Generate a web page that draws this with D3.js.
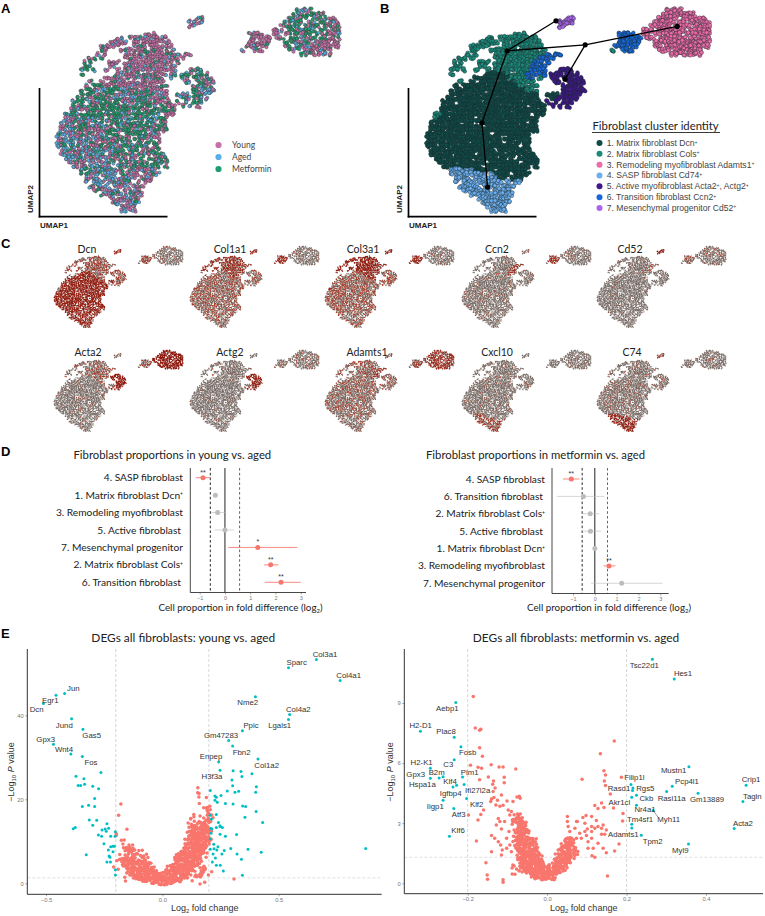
<!DOCTYPE html>
<html><head><meta charset="utf-8">
<script src="https://cdnjs.cloudflare.com/ajax/libs/d3/7.8.5/d3.min.js"></script>
<style>html,body{margin:0;padding:0;background:#fff}svg{display:block}</style></head>
<body><svg id="c" width="765" height="916"></svg>
<script>
// ---------- UMAP occupancy: digit = cluster id of the cell at that place
const umapRows = [
".......... .......... .......... .......... .......... .......... 3333.......",
".......... .......... .......... .......... .......... .........3 3333333....",
".......... .......... .......... .....77... .......... ........33 333.333333.",
".......... .......... .......... ...7777... .......... .......333 33.33.33333",
".......... .......... .......... ...77..... .......... ......3333 3.3333.3333",
".......... .......... .......... .......... .......... ....333.33 33333.33333",
".......... .......... ..222..... .......... ........66 66..33.333 3333.333333",
".......... .....22.22 22222222.. .......... ........66 6666.33.33 33333.33333",
".......... ...22222.2 222222222. .......... ........66 6666...333 33333333333",
".......... .22222...2 222222222. .......... .......666 666....33. 33333333333",
".......... .22...2222 22222222.2 .......... ......2..6 66......33 3.3333333..",
".......... 2.2....222 2222222222 6.66...... .......... .......... .33333333..",
"........22 .2.....222 2222222266 66........",
".......22. ...222.222 222222266. 6.........",
".......22. ...22..222 2222226666 ..........",
"......22.2 ..2..2.222 2222226666 ...5555...",
"......2... .....11111 2222266666 .555.555..",
".......... ..11111111 1222266.2. .55.55555.",
"........2. .1.1111111 1122222... ..55.55555",
".......1.1 1111111111 11122222.. ....55555.",
"......1111 1111111111 11111222.. ....555555",
"......1111 1111111111 11111111.. 111.55555.",
".....11111 1111111111 11111111.. .1155555..",
"....111.11 1111111111 111111111. 5.5.555...",
"....111111 1111111111 11111.1111 .5.5.5....",
"...1111111 1111111111 1111111111",
"..22111111 1111111111 111111.111",
"..21111111 11.1111111 11111111..",
".111111111 1111111111 11111.11..",
".111111111 1111.11111 11111111..",
".111111111 1111111111 11111111..",
"1111111111 111111.111 111111....",
"1111111111 1111111111 111111....",
"1111111111 111111111. 111111....",
"1111111111 1111111111 111.11....",
".111111111 1111111.11 111111....",
".111111111 11.1111111 1111111...",
"..11111111 1111111111 .1.11111..",
"...1111111 11111.1111 111.1111..",
"....111111 1111.11111 111111.1..",
"......4444 4411111.11 11111.....",
"......4444 44444.4111 1.1111....",
".......444 4.44444411 .111......",
".......4.4 44.444444. 4.44......",
"........44 444.4444.4 44........",
".........4 444444.444 4.........",
".......... .444444444 44........",
".......... ...4444444 4.........",
".......... ....444444 4.........",
".......... .....44444",
".......... ......4444"
];
// Condition make-up of the UMAP, read per 4x4-cell block of panel A (p young, g metformin, b aged, x even)
const conditionBlocks = [
"pppppppppppppggggp",
"ppppppppppppppgggp",
"ppgpppppppppppgxpp",
"gggpppppgggppppppp",
"xggppppxgxxppppppp",
"xgggxxpxgbpppppppp",
"xxgggggpbbpppppppp",
"bxxgggggpppppppppp",
"bbxxgggbxppppppppp",
"bbbxxggbbppppppppp",
"pxbbxpbbpppppppppp",
"ppxbbpbppppppppppp",
"ppbbbbbppppppppppp"
];
const conditionMix = {p:"YYAYYMYY", g:"MMYMAMMY", b:"AYAMAYYA", x:"YAMYMAYM"};
const conditions = ["Young","Aged","Metformin"];
const conditionCodes = ["Y","A","M"];
const conditionColors = ["#C96FA8","#58AEE6","#1F9D6F"];
const clusterNames = ["1. Matrix fibroblast Dcn","2. Matrix fibroblast Cols","3. Remodeling myofibroblast Adamts1","4. SASP fibroblast Cd74","5. Active myofibroblast Acta2","6. Transition fibroblast Ccn2","7. Mesenchymal progenitor Cd52"];
const clusterExtra = ["","","","",", Actg2","",""];
const clusterColors = ["#0F4B49","#1C8A7B","#EE6BA9","#6CAEF0","#3F1788","#1768DB","#AE63ED"];
// trajectory nodes in UMAP cell units and their edges
const trajectoryNodes = [[32.5,3.2],[20.3,10.7],[39.8,9.2],[62.8,4.6],[34.75,17.8],[14,28.7],[15.4,44.8]];
const trajectoryEdges = [[1,0],[1,2],[2,3],[2,4],[1,5],[5,6]];
// Panel C: share of expressing cells per cluster (1..7)
const genesTop = ["Dcn","Col1a1","Col3a1","Ccn2","Cd52"];
const genesBottom = ["Acta2","Actg2","Adamts1","Cxcl10","C74"];
const expression = {
 Dcn:[.8,.4,.08,.72,.38,.45,.55], Col1a1:[.26,.58,.05,.26,.26,.6,.55], Col3a1:[.3,.8,.05,.26,.32,.68,.65],
 Ccn2:[.03,.05,.04,.04,.05,.55,.08], Cd52:[.01,.02,.09,.02,.02,.22,.9],
 Acta2:[.02,.2,.92,.02,.88,.35,.1], Actg2:[.01,.02,.1,.02,.75,.05,.05], Adamts1:[.18,.26,.6,.13,.2,.55,.28],
 Cxcl10:[.04,.04,.03,.42,.03,.04,.05], C74:[.05,.05,.05,.75,.12,.05,.5]
};
// Panel D
const propYoungLabels = ["4. SASP fibroblast","1. Matrix fibroblast Dcn","3. Remodeling myofibroblast","5. Active fibroblast","7. Mesenchymal progenitor","2. Matrix fibroblast Cols","6. Transition fibroblast"];
const propYoungSup = [0,1,0,0,0,1,0];
const propYoungMid = [-.87,-.38,-.29,0,1.3,1.81,2.22];
const propYoungLo = [-1.16,-.46,-.54,-.41,.13,1.55,1.57];
const propYoungHi = [-.58,-.3,0,.37,2.87,2.12,3.0];
const propYoungSig = ["**","","","","*","**","**"];
const propMetLabels = ["4. SASP fibroblast","6. Transition fibroblast","2. Matrix fibroblast Cols","5. Active fibroblast","1. Matrix fibroblast Dcn","3. Remodeling myofibroblast","7. Mesenchymal progenitor"];
const propMetSup = [0,0,1,0,1,0,0];
const propMetMid = [-1.08,-.52,-.21,-.2,0,.65,1.23];
const propMetLo = [-1.46,-1.74,-.55,-.62,-.09,.4,-.17];
const propMetHi = [-.7,.44,.21,.29,.09,.94,3.1];
const propMetSig = ["**","","","","","**",""];
// Panel E: young vs aged
const youngTealX = [.662,.542,.764,.40,.547,.542,.344,.285,.302,.411,.242,.248,-.42,-.457,-.511,-.39,-.341,-.468,-.393,-.344,
-.264,-.371,-.337,-.334,-.362,-.351,-.299,-.274,-.291,-.344,-.317,-.291,-.314,-.282,-.299,-.238,-.374,-.383,-.231,-.246,-.259,-.241,-.275,-.261,-.222,-.202,-.203,-.251,-.222,-.212,-.206,-.232,-.212,-.327,-.229,-.225,-.238,-.223,-.202,-.202,
.206,.226,.232,.252,.279,.302,.312,.328,.304,.338,.342,.385,.299,.404,.401,.345,.358,.271,.304,.226,.236,.403,.355,.431,.232,.205,.211,.241,.248,.258,.232,.248,.208,.213,.209,.248,.271,.319,.206,.221,.239,.222,.206,.234,.266,.294,.368,.425,.321,.218,.256,.228,.34,.215,.232,.249,.262,.344,.874];
const youngTealY = [53.3,51.3,48.3,44.4,40.2,39.0,36.3,34.0,32.7,29.6,28.9,26.9,45.2,44.8,42.8,39.2,36.7,33.1,30.8,30.2,
26.4,25.5,24.9,23.6,23.3,23.3,23.1,22.5,20.2,18.3,18.6,18.3,15.1,15.0,13.8,14.2,13.3,13.0,13.1,12.9,12.7,12.4,11.5,11.2,11.2,12.3,11.2,9.4,8.7,8.8,8.8,7.9,7.5,6.8,6.5,6.2,5.1,5.1,3.2,2.0,
22.1,20.8,20.5,20.9,22.0,23.2,21.7,21.9,26.8,26.6,25.4,26.1,24.6,23.0,21.7,18.4,18.3,19.0,18.9,19.8,19.3,17.1,15.7,14.5,16.4,16.2,15.3,14.5,13.7,13.3,13.3,13.5,13.1,12.9,11.9,11.7,11.2,11.6,10.6,9.3,8.7,8.2,8.1,7.9,7.8,8.3,8.1,7.4,7.0,7.0,7.0,6.0,5.7,5.1,4.3,4.3,2.9,1.9,8.3];
const youngLabels = ["Col3a1","Sparc","Col4a1","Nme2","Col4a2","Lgals1","Ppic","Gm47283","Fbn2","Col1a2","Enpep","H3f3a","Jun","Egr1","Dcn","Jund","Gas5","Gpx3","Wnt4","Fos"];
// dense part of the non-significant cloud, one # per occupied bin (bin: 0.0125 log2FC x 0.75 -log10P, starting at -0.25, 22.5)
const youngRedBins = [
".......... .......... .......... ..#.......",
".......... .......... .......... ..##......",
"",
".......... .......... .......... ...#.#....",
"",
"......#... .......... .......... ...#......",
".......... .......... .......... ....###...",
".......... .......... .......... .....##...",
".....#.... .......... .......... .#...###..",
".......... .......... .......... ##.##.##..",
".......... .......... .......... ##.#.###..",
".......... .......... .........# #.#####...",
".......... .......... .........# #######...",
"........#. .......... .........# ########..",
"....#..... .......... .........# ########..",
"....#..... .......... .........# #######...",
"......##.. .......... ........## ########..",
".......... .......... ........## #######...",
"......#..# #......... ........## #######...",
".......### ##........ .......### ######....",
".......### #.##...... ......#### ######....",
".....#.##. ###.##.... .....##### #####.....",
".....##### ##.###.... ....###### ####.#....",
"....#.#### ######.... ....###### ####......",
"......#### #######... ...####### ####......",
"...#...### ########.. ..######## ##.###....",
".....#..## #########. .######### ##.###.#..",
"........## ########## ########## #.###.#...",
".......#.. ########## ########## .###......",
".......#.. .######### ########.. #.........",
".......... ......#### #####..... ...#......"
];
const youngRedExtraX = [.308,.182];
const youngRedExtraY = [1.03,.24];
// Panel E: metformin vs aged
const metTealX = [.265,.32,-.23,-.319,-.234,-.217,-.234,-.294,-.294,-.272,-.262,-.213,-.228,-.237,-.209,-.203,-.262,-.235,-.246,.357,.315,.301,.38,.501,.493,.471,.356,.237,.267,.225,.225,.213,.216,.215,.211,.213,.213];
const metTealY = [11.18,10.2,9.02,7.59,7.29,6.82,6.17,5.74,5.24,5.26,5.32,5.31,4.89,4.81,4.93,4.23,4.14,3.74,2.35,5.82,4.84,4.58,4.49,4.89,4.08,2.73,1.96,2.4,3.64,3.89,4.39,4.29,4.76,4.63,4.93,2.95,2.76];
const metLabels = ["Tsc22d1","Hes1","Aebp1","H2-D1","Plac8","Fosb","C3","H2-K1","Gpx3","B2m","Klf4","Hspa1a","Pim1","Igfbp4","Ifi27l2a","Klf2","Iigp1","Atf3","Klf6","Mustn1","Pcp4l1","Rasl11a","Gm13889","Crip1","Tagln","Acta2","Myl9","Tpm2","Myh11","Nr4a1","Ckb","Rgs5","Rasd1","Filip1l","Akr1cl","Tm4sf1","Adamts1"];
const metRedX = [-.186,-.181,-.17,-.167,-.17,-.163,-.193,-.174,-.165,-.141,-.121,-.111,-.108,-.079,-.148,-.17,-.135,-.137,-.108,-.136,-.131,-.14,-.134,-.125,-.115,-.101,-.142,-.129,-.119,-.111,-.086,-.076,-.07,-.068,-.16,-.167,-.174,-.198,.088,.134,.169,.143,.147,.144,.147,.187,.159,.137,.12,.128,.143,.167,.191,.19,.098,.09,.076,.051,.051,.074,.095,.112,.124,.112,.128,.141,.101,.12,.137,.149,.095,.112,.053,.07,.057,.082,.099,.112,.137,.145,.074,.086,.103,.128,.141,.181,.17,.149,.113,.12,.103,.116,-.119,-.128,-.107,-.094,-.086,-.098,-.09,-.123,-.115,-.14,-.132,-.123,-.117,-.113,-.102,-.115,-.14,-.178,-.154,-.151,-.15,-.111,-.111,-.088,-.081,-.096,-.102,-.094,-.09,.152];
const metRedY = [9.33,7.75,7.64,7.69,6.76,6.34,5.89,5.79,5.74,5.92,5.81,5.81,5.29,5.71,5.31,5.17,5.11,4.94,5.02,4.58,4.76,4.21,4.28,4.14,4.41,4.11,4.08,3.91,3.84,3.89,4.08,4.31,4.34,4.24,3.66,3.44,3.16,3.41,5.19,6.47,7.10,5.62,5.41,5.11,4.88,5.29,4.46,4.01,3.88,3.74,3.78,3.76,3.49,3.11,3.38,3.28,3.08,3.34,3.08,3.08,3.0,3.33,3.13,2.83,2.83,2.91,2.71,2.75,2.75,2.66,2.58,2.58,2.83,2.75,2.58,2.5,2.38,2.25,2.45,2.45,2.25,2.25,2.08,2.0,1.75,1.96,1.61,1.53,1.38,1.3,1.75,1.75,3.08,2.91,3.08,3.41,3.08,3.66,3.58,3.24,2.71,2.38,2.25,2.08,1.91,1.66,1.75,1.41,1.58,2.11,1.03,.42,.2,.18,.05,.47,.45,2.58,2.25,1.91,1.58,.37];
// V-shaped core (bin: 0.0075 log2FC x 0.15 -log10P, starting at -0.105, 3.4)
const metRedBins = [
"...###....",
"...####...",
"..######..",
"..#.####..",
"....####..",
"...######.",
"...######.",
"...######.",
"...####### #......... ####......",
"...####### #........# ####......",
"...####### #........# ####......",
"...####### ##......## #####.....",
"....###### ##......## #####.....",
"....###### ###....### #####.....",
"....###### ###....### ####......",
"....###### ####..#### ###.......",
".....##### ####..#### ###.......",
"..##.##### ########## ##........",
"..#.###### ########## #.........",
"......#### ##########",
"........## ########..",
".........# ########.."
];

// ---------- layout (not data)
const svg = d3.select("#c");
const serif = "Lato, sans-serif", arial = "'Liberation Sans', Arial, sans-serif";
const W = s=>s.replace(/ /g,"");
const cells = [];
umapRows.forEach((row,r)=>{ W(row).split("").forEach((ch,c)=>{ if(ch!==".") cells.push({c,r,k:+ch-1}); }); });
// fixed integer hash: spreads the dots of one cell and dithers shares, same output on every run
function scatter(c,r,s){
  let h = Math.imul(c+1,374761393) ^ Math.imul(r+1,668265263) ^ Math.imul(s+1,2246822519);
  h = Math.imul(h ^ (h>>>13),1274126177); h ^= h>>>16;
  return (h>>>0)%1000/1000;
}
function conditionOf(d,s){
  const line = conditionBlocks[Math.min(12,Math.floor(d.r/4))];
  const mix = conditionMix[line[Math.floor(d.c/4)]||"p"];
  return conditionCodes.indexOf(mix[Math.floor(scatter(d.c,d.r,s+20)*mix.length)]);
}
const umapW = 71, umapH = 50;
function umapScales(x0,y0,w,h){
  return {sx:d3.scaleLinear().domain([0,umapW]).range([x0,x0+w]), sy:d3.scaleLinear().domain([0,umapH]).range([y0,y0+h])};
}
function subPoints(n){
  const out=[];
  cells.forEach(d=>{ for(let s=0;s<n;s++) out.push({d,s,u:d.c+.05+.9*scatter(d.c,d.r,s*2),v:d.r+.05+.9*scatter(d.c,d.r,s*2+1)}); });
  return out;
}
function text(x,y,s,opt={}){
  return svg.append("text").attr("x",x).attr("y",y).text(s)
   .attr("font-family",opt.f||serif).attr("font-size",opt.s||10).attr("fill",opt.c||"#222")
   .attr("font-weight",opt.w||"normal").attr("text-anchor",opt.a||"start");
}
[["A",1,12.5],["B",380,12.5],["C",1,248],["D",1,456],["E",1,638]].forEach(d=>text(d[1],d[2],d[0],{f:arial,s:13,w:"bold",c:"#000"}));

// Panel A
(function(){
  const {sx,sy} = umapScales(56,8,284,200);
  const g = svg.append("g");
  g.selectAll("circle").data(subPoints(3)).join("circle")
   .attr("cx",e=>sx(e.u)).attr("cy",e=>sy(e.v)).attr("r",1.6)
   .attr("fill",e=>conditionColors[conditionOf(e.d,e.s)]).attr("stroke","#3a3a3a").attr("stroke-width",.45);
  conditions.forEach((n,i)=>{
    g.append("circle").attr("cx",218.5).attr("cy",145+12*i).attr("r",3.1).attr("fill",conditionColors[i]);
    text(232,148+12*i,n,{s:8.5,c:"#444"});
  });
})();
// Panel B
(function(){
  const {sx,sy} = umapScales(426,8,284,200);
  const g = svg.append("g");
  g.selectAll("circle").data(subPoints(4)).join("circle")
   .attr("cx",e=>sx(e.u)).attr("cy",e=>sy(e.v)).attr("r",1.9)
   .attr("fill",e=>clusterColors[e.d.k]).attr("stroke","#1b2b2b").attr("stroke-width",.4);
  g.selectAll("line").data(trajectoryEdges).join("line")
   .attr("x1",d=>sx(trajectoryNodes[d[0]][0])).attr("y1",d=>sy(trajectoryNodes[d[0]][1]))
   .attr("x2",d=>sx(trajectoryNodes[d[1]][0])).attr("y2",d=>sy(trajectoryNodes[d[1]][1]))
   .attr("stroke","#000").attr("stroke-width",1.3);
  g.selectAll("circle.n").data(trajectoryNodes).join("circle").attr("class","n")
   .attr("cx",d=>sx(d[0])).attr("cy",d=>sy(d[1])).attr("r",2.6).attr("fill","#000");
  text(592.5,130,"Fibroblast cluster identity",{s:11.3,c:"#222"});
  g.append("line").attr("x1",592).attr("x2",720).attr("y1",132.5).attr("y2",132.5).attr("stroke","#222").attr("stroke-width",.9);
  clusterNames.forEach((n,i)=>{
    const y = 143+10.83*i;
    g.append("circle").attr("cx",599.5).attr("cy",y).attr("r",3).attr("fill",clusterColors[i]);
    const t = text(606.7,y+3,n,{f:arial,s:8.6,c:"#444"});
    t.append("tspan").attr("dy",-2.5).attr("font-size",5).text("+");
    if(clusterExtra[i]){ t.append("tspan").attr("dy",2.5).text(clusterExtra[i]); t.append("tspan").attr("dy",-2.5).attr("font-size",5).text("+"); }
  });
})();
// UMAP axes
[39.5,408.5].forEach(ax=>{
  svg.append("line").attr("x1",ax).attr("x2",ax).attr("y1",88).attr("y2",217.5).attr("stroke","#000").attr("stroke-width",1.7);
  svg.append("line").attr("x1",ax-.8).attr("x2",ax+128).attr("y1",216.7).attr("y2",216.7).attr("stroke","#000").attr("stroke-width",1.7);
  text(ax+.5,228,"UMAP1",{f:arial,s:8,w:"bold",c:"#222"});
  text(0,0,"UMAP2",{f:arial,s:8,w:"bold",c:"#222"}).attr("transform",`translate(${ax-7},213) rotate(-90)`);
});
// Panel C
const featX = [54,190,325,462,597], featY=[246,350];
const geneTitleX = [[87,230,363,497,630],[88,230,367,497,632]];
const hi = d3.scaleLinear().domain([0,1]).range(["#b54a34","#8a1006"]);
[genesTop,genesBottom].forEach((genes,ri)=>genes.forEach((gene,i)=>{
  const {sx,sy} = umapScales(featX[i],featY[ri],129,80);
  const vals = expression[gene];
  const g = svg.append("g");
  const dark = d3.path(), light = d3.path();
  const pts = subPoints(4);
  const on = [];
  const dot = (p,e,r)=>{ p.moveTo(sx(e.u)+r,sy(e.v)); p.arc(sx(e.u),sy(e.v),r,0,2*Math.PI); };
  pts.forEach(e=>{
    if(scatter(e.d.c,e.d.r,e.s+40+i*5+ri*50)<vals[e.d.k]) on.push(e);
    else dot(scatter(e.d.c,e.d.r,e.s+9)<.65?dark:light,e,.58);
  });
  g.append("path").attr("d",light.toString()).attr("fill","#b8ada7");
  g.append("path").attr("d",dark.toString()).attr("fill","#766b66");
  d3.groups(on,e=>vals[e.d.k]).forEach(([v,list])=>{
    const p = d3.path(); list.forEach(e=>dot(p,e,.6));
    g.append("path").attr("d",p.toString()).attr("fill",hi(v));
  });
  text(geneTitleX[ri][i],[253,356][ri],gene,{s:10.5,a:"middle",c:"#222"});
}));
// Panel D
function forest(o){
  const x = d3.scaleLinear().domain([-1,3]).range([o.xm1,o.x3]);
  const y = d3.scalePoint().domain(o.labels).range([o.top,o.bot]);
  const g = svg.append("g");
  [[-.58,"#111"],[.58,"#555"]].forEach(v=>g.append("line").attr("x1",x(v[0])).attr("x2",x(v[0])).attr("y1",o.y0).attr("y2",o.y1).attr("stroke",v[1]).attr("stroke-width",.9).attr("stroke-dasharray","2.6 2.2"));
  g.append("line").attr("x1",x(0)).attr("x2",x(0)).attr("y1",o.y0).attr("y2",o.y1).attr("stroke","#222").attr("stroke-width",1);
  const col = (i)=>o.sig[i]?"#F8766D":"#bdbdbd";
  o.labels.forEach((l,i)=>{
    const yy = y(l);
    g.append("line").attr("x1",x(o.lo[i])).attr("x2",x(o.hi[i])).attr("y1",yy).attr("y2",yy).attr("stroke",col(i)).attr("stroke-width",1).attr("opacity",o.sig[i]?.85:.6);
    g.append("circle").attr("cx",x(o.mid[i])).attr("cy",yy).attr("r",2.5).attr("fill",col(i));
    if(o.sig[i]) text(x(o.mid[i]),yy-3.2,o.sig[i],{f:arial,s:7,a:"middle",c:"#333"});
    const t = text(o.labX-(/^(5\.|6\.)/.test(l)?2:0),yy+3.5,l,{s:10.2,a:"end",c:"#222"});
    if(o.sup[i]) t.append("tspan").attr("dy",-2.5).attr("font-size",5).text("+");
  });
  g.append("line").attr("x1",o.yAxisX).attr("x2",o.yAxisX).attr("y1",o.y0).attr("y2",o.y1).attr("stroke","#333").attr("stroke-width",.9);
  const ax = g.append("g").attr("transform",`translate(0,${o.y1})`).call(d3.axisBottom(x).tickValues([-1,0,1,2,3]).tickFormat(d=>d<0?"−"+(-d):d).tickSize(2).tickPadding(1.5));
  ax.select(".domain").remove();
  ax.selectAll("text").attr("font-family",arial).attr("font-size",5.5).attr("fill","#777");
  ax.selectAll("line").attr("stroke","#555").attr("stroke-width",.5);
  g.append("line").attr("x1",o.yAxisX).attr("x2",o.xEnd).attr("y1",o.y1).attr("y2",o.y1).attr("stroke","#333").attr("stroke-width",.9);
  text(o.titleX,459,o.title,{s:11.3,c:"#222"});
  const xl = text(o.xlabX,611,"Cell proportion in fold difference (log",{s:9.8,c:"#222"});
  xl.append("tspan").attr("dy",2).attr("font-size",6).text("2");
  xl.append("tspan").attr("dy",-2).text(")");
  return g;
}
forest({labels:propYoungLabels,sup:propYoungSup,mid:propYoungMid,lo:propYoungLo,hi:propYoungHi,sig:propYoungSig,xm1:199.7,x3:300.7,top:477.7,bot:582.3,y0:468,y1:592.5,labX:183,yAxisX:190.3,xEnd:306,titleX:73.5,title:"Fibroblast proportions in young vs. aged",xlabX:158.5});
forest({labels:propMetLabels,sup:propMetSup,mid:propMetMid,lo:propMetLo,hi:propMetHi,sig:propMetSig,xm1:573,x3:660.3,top:479,bot:583.3,y0:468,y1:593.5,labX:545,yAxisX:552,xEnd:668.7,titleX:426,title:"Fibroblast proportions in metformin vs. aged",xlabX:527});
// Panel E
const TEAL="#00BFC4", RED="#F8766D";
function volcano(o){
  const x = d3.scaleLinear().domain(o.xd).range(o.xr);
  const y = d3.scaleLinear().domain(o.yd).range(o.yr);
  const g = svg.append("g");
  o.vdash.forEach(v=>g.append("line").attr("x1",x(v)).attr("x2",x(v)).attr("y1",o.top).attr("y2",o.bottom).attr("stroke","#ccc").attr("stroke-width",.8).attr("stroke-dasharray","3 2"));
  g.append("line").attr("x1",o.left).attr("x2",o.right).attr("y1",y(1.3)).attr("y2",y(1.3)).attr("stroke","#d8d8d8").attr("stroke-width",.8).attr("stroke-dasharray","3 2");
  g.selectAll("circle.r").data(o.red).join("circle").attr("class","r").attr("cx",d=>x(d[0])).attr("cy",d=>y(d[1])).attr("r",1.75).attr("fill",RED);
  g.selectAll("circle.t").data(o.teal).join("circle").attr("class","t").attr("cx",d=>x(d[0])).attr("cy",d=>y(d[1])).attr("r",1.5).attr("fill",TEAL);
  const ax = g.append("g").attr("transform",`translate(0,${o.bottom})`).call(d3.axisBottom(x).tickValues(o.xt).tickFormat(d=>(d<0?"−":"")+Math.abs(d).toFixed(1)).tickSize(2).tickPadding(1.5));
  const ay = g.append("g").attr("transform",`translate(${o.left},0)`).call(d3.axisLeft(y).tickValues(o.yt).tickSize(2).tickPadding(1.5));
  [ax,ay].forEach(a=>{a.select(".domain").remove();a.selectAll("text").attr("font-family",arial).attr("font-size",5.8).attr("fill","#777");a.selectAll("line").attr("stroke","#555").attr("stroke-width",.5);});
  g.append("line").attr("x1",o.left).attr("x2",o.left).attr("y1",o.top).attr("y2",o.bottom).attr("stroke","#333").attr("stroke-width",1);
  g.append("line").attr("x1",o.left).attr("x2",o.right).attr("y1",o.bottom).attr("y2",o.bottom).attr("stroke","#333").attr("stroke-width",1);
  text(o.titleC,641.5,o.title,{s:11.9,a:"middle",c:"#222"});
  const xl = text(o.xlabC,911,"Log",{f:arial,s:9,a:"middle",c:"#333"});
  xl.append("tspan").attr("dy",2).attr("font-size",6).text("2");
  xl.append("tspan").attr("dy",-2).text(" fold change");
  const yl = svg.append("text").attr("transform",`translate(${o.ylabX},${o.ylabY}) rotate(-90)`).attr("text-anchor","middle").attr("font-family",arial).attr("font-size",9).attr("fill","#333");
  yl.append("tspan").text("−Log");
  yl.append("tspan").attr("dy",2).attr("font-size",6).text("10");
  yl.append("tspan").attr("dy",-2).text(" ");
  yl.append("tspan").attr("font-style","italic").text("P");
  yl.append("tspan").text(" value");
  o.labels.forEach((n,i)=>text(o.labelPos[i][0],o.labelPos[i][1]+2.8,n,{f:arial,s:7.8,a:"middle",c:"#333"}));
  return {g,x,y};
}
// bins with occupied neighbours sit in the solid core: three dots; isolated bins: one dot
function binsToPoints(rows,x0,dx,y0,dy){
  const pts=[];
  rows.forEach((row,r)=>{
    const s=W(row);
    s.split("").forEach((ch,c)=>{
      if(ch!=="#") return;
      const n = (s[c-1]==="#"&&s[c+1]==="#")?3:1;
      for(let k=0;k<n;k++) pts.push([x0+(c+scatter(c,r,70+k*2)-.5)*dx,y0-(r+scatter(c,r,71+k*2)-.5)*dy]);
    });
  });
  return pts;
}
const zl = p=>p.map(d=>[d[0]/3,625+d[1]/3]);
const zr = p=>p.map(d=>[385+d[0]/3,625+d[1]/3]);
const youngLabelPos = zl([[975,87],[890,113],[1046,151],[743,233],[895,253],[839,301],[753,302],[663,331],[725,381],[800,420],[633,394],[636,454],[220,189],[151,225],[110,254],[193,300],[275,331],[137,342],[192,372],[273,411]]);
const metLabelPos = zr([[778,122],[894,145],[187,251],[107,301],[183,320],[248,383],[190,417],[110,411],[92,448],[155,443],[195,469],[112,479],[254,441],[197,505],[278,497],[275,537],[151,543],[221,568],[219,617],[866,437],[906,469],[860,519],[966,523],[1098,464],[1102,514],[1074,595],[886,675],[803,649],[851,583],[780,552],[784,521],[781,489],[702,490],[748,458],[703,533],[765,582],[715,628]]);
volcano({xd:[-.5,.5],xr:[46,278.7],yd:[0,40],yr:[883.3,715.3],left:27.3,right:381.7,top:649,bottom:894.3,vdash:[-.2,.2],xt:[-.5,0,.5],yt:[0,20,40],
 red:binsToPoints(youngRedBins,-.25,.0125,22.5,.75).concat(youngRedExtraX.map((v,i)=>[v,youngRedExtraY[i]])),
 teal:youngTealX.map((v,i)=>[v,youngTealY[i]]),labels:youngLabels,labelPos:youngLabelPos,title:"DEGs all fibroblasts: young vs. aged",titleC:183.3,xlabC:204.7,ylabX:14,ylabY:772});
const mv = volcano({xd:[-.2,.4],xr:[467.7,706],yd:[0,9],yr:[883.3,703],left:404.3,right:763,top:649,bottom:893.7,vdash:[-.2,.2],xt:[-.2,0,.2,.4],yt:[0,3,6,9],
 red:binsToPoints(metRedBins,-.105,.0075,3.4,.15).concat(metRedX.map((v,i)=>[v,metRedY[i]])),
 teal:metTealX.map((v,i)=>[v,metTealY[i]]),labels:metLabels,labelPos:metLabelPos,title:"DEGs all fibroblasts: metformin vs. aged",titleC:576,xlabC:583.7,ylabX:393,ylabY:772});
// repel segment for Myh11
mv.g.append("line").attr("x1",mv.x(.267)).attr("y1",mv.y(3.64)).attr("x2",385+820/3).attr("y2",625+578/3).attr("stroke","#333").attr("stroke-width",.5);
</script></body></html>
